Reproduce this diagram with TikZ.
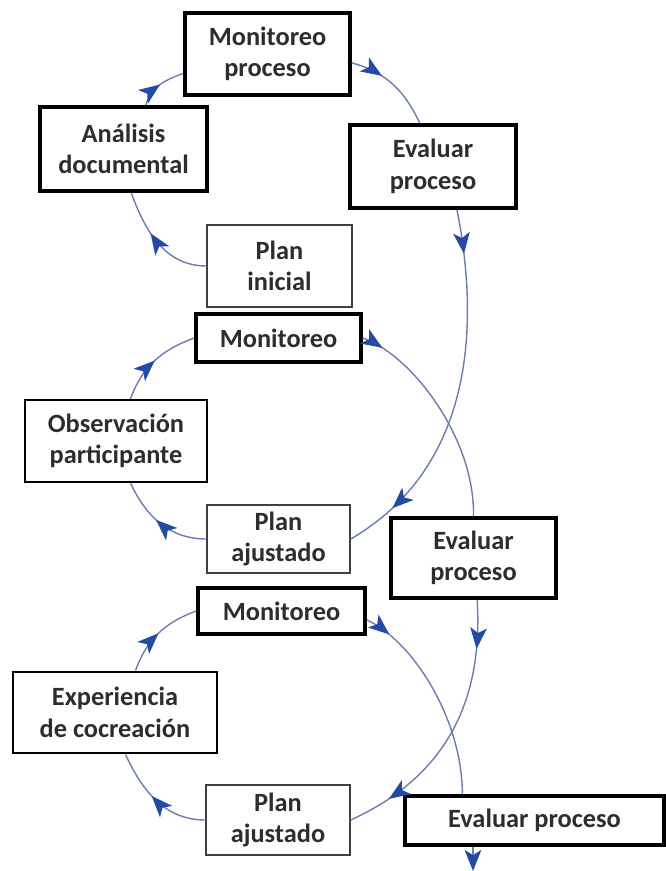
\documentclass[tikz,border=0pt]{standalone}
\usepackage{fontspec}
\setmainfont{Carlito}
\usetikzlibrary{arrows.meta, decorations.markings}
\definecolor{linea}{RGB}{110, 125, 175}
\definecolor{punta}{RGB}{35, 75, 165}
\definecolor{texto}{RGB}{45, 45, 45}

\begin{document}
\begin{tikzpicture}[
    box/.style={draw=black, line width=2pt, fill=white, align=center, text=texto, font=\fontsize{15}{18}\selectfont\bfseries, inner sep=2pt},
    thinbox/.style={box, draw=black!75, line width=0.8pt},
    flow/.style={draw=linea, line width=0.8pt},
    headat/.style={postaction={decorate, decoration={markings, mark=at position #1 with {\arrow{Stealth[length=12pt, width=9.5pt, inset=3pt, color=punta]}}}}}
]
    \useasboundingbox (0,0) rectangle (13.32,-17.42);

    \node[box, minimum width=3.3cm, minimum height=1.64cm] (monproc) at (5.35,-1.08) {Monitoreo\\proceso};
    \node[box, minimum width=3.34cm, minimum height=1.68cm] (analisis) at (2.47,-2.98) {Análisis\\documental};
    \node[box, minimum width=3.32cm, minimum height=1.66cm] (evalA) at (8.66,-3.33) {Evaluar\\proceso};
    \node[thinbox, minimum width=2.9cm, minimum height=1.64cm] (inicial) at (5.59,-5.32) {Plan\\inicial};

    \node[box, minimum width=3.3cm, minimum height=0.96cm] (monB) at (5.57,-6.76) {Monitoreo};
    \node[box, line width=1.3pt, minimum width=3.64cm, minimum height=1.64cm] (observ) at (2.32,-8.82) {Observación\\participante};
    \node[thinbox, minimum width=2.86cm, minimum height=1.36cm] (ajusteB) at (5.57,-10.78) {Plan\\ajustado};
    \node[box, minimum width=3.3cm, minimum height=1.6cm] (evalB) at (9.47,-11.16) {Evaluar\\proceso};

    \node[box, minimum width=3.34cm, minimum height=0.92cm] (monC) at (5.63,-12.22) {Monitoreo};
    \node[box, line width=1.6pt, minimum width=4.08cm, minimum height=1.62cm] (exper) at (2.3,-14.25) {Experiencia\\de cocreación};
    \node[thinbox, minimum width=2.88cm, minimum height=1.4cm] (ajusteC) at (5.56,-16.4) {Plan\\ajustado};
    \node[box, minimum width=5.18cm, minimum height=0.98cm] (evalC) at (10.69,-16.41) {Evaluar proceso};
    \coordinate (salida) at (9.46,-17.42);

    \draw[flow, headat=0.6] (inicial.west) to[out=180, in=-70] (analisis.-80);
    \draw[flow, headat=0.5] (analisis.63) to[out=75, in=200] (monproc.193);
    \draw[flow, headat=0.35] (monproc.-6) to[out=-15, in=115] (evalA.107);
    \draw[flow, headat=0.12, headat=0.86] (evalA.-61) .. controls +(0.48,-2.44) and +(2.4,1.4) .. (ajusteB.east);

    \draw[flow, headat=0.55] (ajusteB.west) to[out=180, in=-65] (observ.-71);
    \draw[flow, headat=0.5] (observ.71) to[out=70, in=200] (monB.west);
    \draw[flow, headat=0.1] (monB.east) .. controls +(0.98,-0.34) and +(0.03,1.56) .. (evalB.north);
    \draw[flow, headat=0.18, headat=0.84] (evalB.-85) .. controls +(0.1,-1.64) and +(2.2,1.0) .. (ajusteC.east);

    \draw[flow, headat=0.55] (ajusteC.west) to[out=180, in=-65] (exper.-76);
    \draw[flow, headat=0.5] (exper.64) to[out=70, in=200] (monC.west);
    \draw[flow, headat=0.13] (monC.-6) .. controls +(0.9,-0.4) and +(0,1.52) .. (evalC.160);
    \draw[flow, -{Stealth[length=12pt, width=9.5pt, inset=3pt, color=punta]}] (salida |- evalC.south) -- (salida);
\end{tikzpicture}
\end{document}
